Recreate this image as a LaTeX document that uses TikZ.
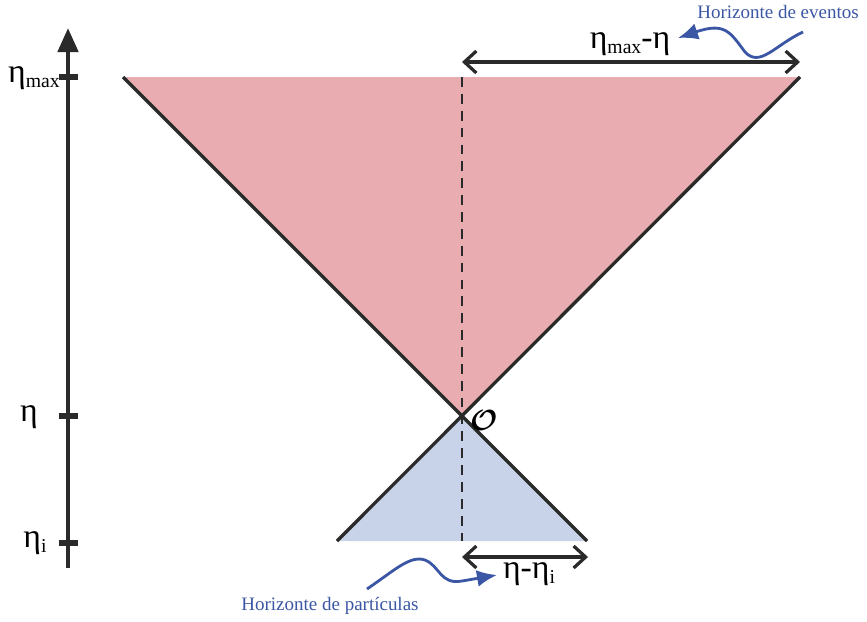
\documentclass[tikz,border=0pt]{standalone}
\usepackage{fontspec}
\setmainfont{Liberation Serif}
\usetikzlibrary{arrows.meta}

\definecolor{rosa}{HTML}{E9ADB1}
\definecolor{celeste}{HTML}{C8D3EA}
\definecolor{azul}{HTML}{3B56A5}
\definecolor{gris}{HTML}{2A2A2A}

\newcommand{\bajo}[1]{\raisebox{-0.35ex}{\fontsize{14}{15}\selectfont #1}}

\tikzset{
	cono/.style={draw=gris, line width=2.3pt},
	cota/.style={gris, line width=2.3pt, {Straight Barb[length=3mm,width=5.5mm]}-{Straight Barb[length=3mm,width=5.5mm]}},
	nota/.style={azul, font=\fontsize{13.5}{15}\selectfont},
	flecha/.style={azul, line width=2pt, -{Latex[length=5mm,width=4.2mm]}},
	eta/.style={inner sep=0pt, font=\fontsize{24}{26}\selectfont}
}

\begin{document}
\begin{tikzpicture}[x=0.025cm, y=-0.025cm]
\useasboundingbox (0,0) rectangle (867,621);

% Conos de luz
\coordinate (O) at (462,416);
\coordinate (A) at (123,77);
\coordinate (B) at (800,77);
\coordinate (C) at (337,541);
\coordinate (D) at (587,541);
\coordinate (Oarr) at (462,77);
\coordinate (Oab) at (462,541);

	\fill[rosa] (A) -- (B) -- (O) -- cycle;
	\fill[celeste] (C) -- (D) -- (O) -- cycle;
	\draw[gris, line width=1.5pt, dash pattern=on 7pt off 5pt] (Oarr) -- (Oab);
	\draw[cono] (A) -- (D);
	\draw[cono] (B) -- (C);

\node[font=\fontsize{20}{22}\selectfont\boldmath] (obs) at (484,420) {$\mathcal{O}$};

% Eje temporal
\coordinate (ejeA) at (68,568);
\coordinate (ejeB) at (68,28);
	\draw[gris, line width=3.3pt, -{Triangle[length=6mm,width=5mm]}] (ejeA) -- (ejeB);

	\foreach \y in {77, 416, 543}
		\draw[gris, line width=4pt] (59,\y) -- (78,\y);

\node[eta] (emax) at (34,78) {η\bajo{max}};
\node[eta] (e) at (29,417) {η};
\node[eta] (ei) at (35,543) {η\bajo{i}};

% Distancias
\coordinate (T1) at (462,62);
\coordinate (T2) at (800,62);
	\draw[cota] (T1) -- (T2);
\node[eta] (dsup) at (630,44) {η\bajo{max}-η};

\coordinate (B1) at (462,557);
\coordinate (B2) at (588,557);
	\draw[cota] (B1) -- (B2);
\node[eta] (dinf) at (529,574) {η-η\bajo{i}};

% Horizontes
\node[nota] (hev) at (778,12) {Horizonte de eventos};
\node[nota] (hpa) at (330,606) {Horizonte de partículas};

	\draw[flecha] (803,32) .. controls (775,45) and (760,68) .. (745,52)
		.. controls (730,32) and (725,22) .. (678,38);
	\draw[flecha] (367,589) .. controls (395,570) and (410,555) .. (425,560)
		.. controls (440,566) and (440,585) .. (462,581) -- (497,575);
\end{tikzpicture}
\end{document}
